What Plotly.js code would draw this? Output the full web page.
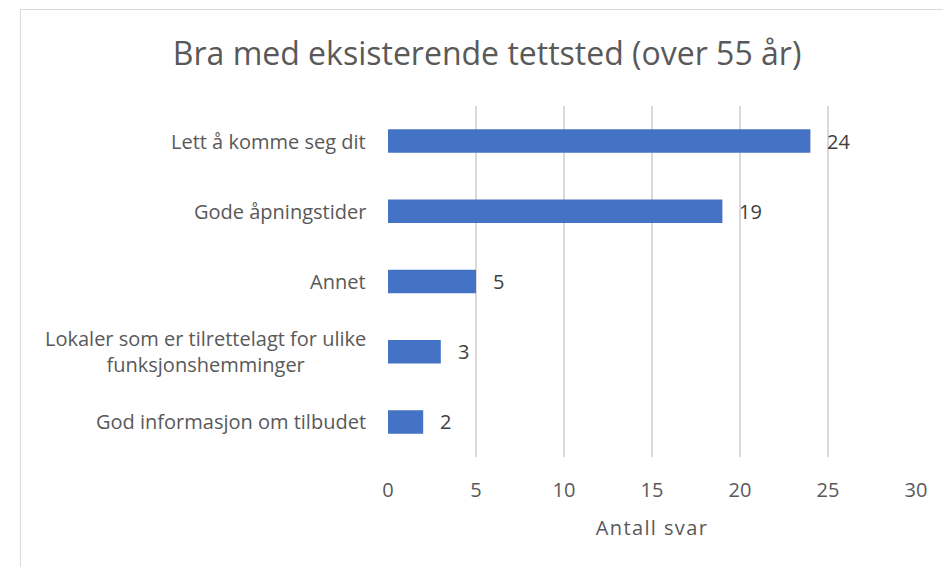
<!DOCTYPE html>
<html>
<head>
<meta charset="utf-8">
<script src="https://cdn.plot.ly/plotly-3.0.1.min.js"></script>
<style>
  html, body { margin: 0; padding: 0; background: #fff; overflow: hidden; }
  #frame { position: absolute; left: 20px; top: 9px; width: 1000px; height: 700px; border: 1.5px solid #d9d9d9; box-sizing: border-box; }
  #chart { position: absolute; left: 0; top: 0; width: 943px; height: 567px; }
  #chart .xtitle { letter-spacing: 1.4px; }
</style>
</head>
<body>
<div id="frame"></div>
<div id="chart"></div>
<script>
const categories = [
  "Lett å komme seg dit",
  "Gode åpningstider",
  "Annet",
  "Lokaler som er tilrettelagt for ulike<br>funksjonshemminger",
  "God informasjon om tilbudet"
];
const values = [24, 19, 5, 3, 2];
const xTicks = [0, 5, 10, 15, 20, 25, 30];

const FONT = "Open Sans, sans-serif";
const TXT = "#595959";

const trace = {
  type: "bar",
  orientation: "h",
  y: categories,
  x: values,
  marker: { color: "#4472C4" },
  hoverinfo: "none"
};

const annotations = [];
categories.forEach((c, i) => {
  annotations.push({
    x: values[i], y: c, xref: "x", yref: "y",
    text: String(values[i]), showarrow: false,
    xanchor: "left", xshift: 15,
    font: { family: FONT, size: 20, color: "#404040" }
  });
  annotations.push({
    x: 0, y: c, xref: "paper", yref: "y",
    text: c, showarrow: false,
    xanchor: "right", xshift: -20, align: "center",
    font: { family: FONT, size: 20, color: TXT }
  });
});

const layout = {
  width: 943, height: 567,
  margin: { l: 388, r: 27, t: 106, b: 110 },
  paper_bgcolor: "rgba(0,0,0,0)",
  plot_bgcolor: "rgba(0,0,0,0)",
  bargap: 0.665,
  showlegend: false,
  title: {
    text: "Bra med eksisterende tettsted (over 55 år)",
    x: 0.5165, xref: "container", xanchor: "center",
    y: 0.905, yref: "container", yanchor: "middle",
    font: { family: FONT, size: 32, color: TXT }
  },
  xaxis: {
    range: [0, 30],
    tickvals: xTicks,
    ticktext: xTicks.map(String),
    showgrid: true, gridcolor: "#d9d9d9", gridwidth: 1.5,
    zeroline: false, showline: false, ticks: "",
    tickfont: { family: FONT, size: 20, color: TXT },
    ticklabelstandoff: 19,
    title: { text: "Antall svar", standoff: 18, font: { family: FONT, size: 20, color: TXT } },
    fixedrange: true
  },
  yaxis: {
    categoryorder: "array",
    categoryarray: categories.slice().reverse(),
    showticklabels: false,
    showgrid: false, zeroline: false, showline: false, ticks: "",
    fixedrange: true
  },
  annotations: annotations
};

Plotly.newPlot("chart", [trace], layout, { displayModeBar: false, staticPlot: true });
</script>
</body>
</html>
